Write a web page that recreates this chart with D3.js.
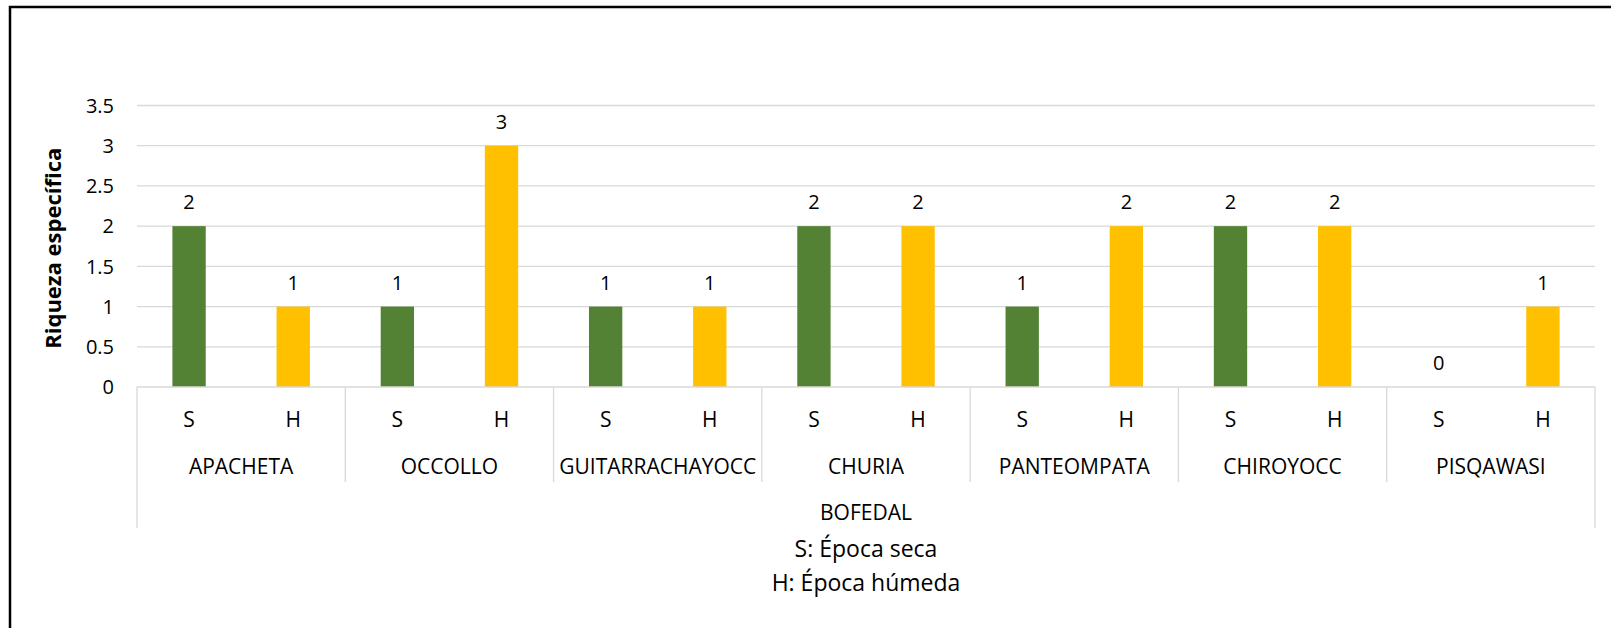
<!DOCTYPE html>
<html lang="es">
  <head>
    <meta charset="UTF-8">
    <style>
        body {
            margin: 0;
            background: #fff;
            font-family: "Open Sans", sans-serif;
        }
        .grid line {
            stroke: #d9d9d9;
            stroke-width: 1.3px;
        }
        .cat-line {
            stroke: #d9d9d9;
            stroke-width: 1.3px;
        }
        text {
            fill: #000;
        }
    </style>
    <script src="https://d3js.org/d3.v7.min.js"></script>
    <title>Riqueza específica por bofedal</title>
  </head>
  <body>
  <script>
      const bofedales = ["APACHETA", "OCCOLLO", "GUITARRACHAYOCC", "CHURIA", "PANTEOMPATA", "CHIROYOCC", "PISQAWASI"];
      const epocas = ["S", "H"];
      const seca = [2, 1, 1, 2, 1, 2, 0];
      const humeda = [1, 3, 1, 2, 2, 2, 1];
      const yTicks = [0, 0.5, 1, 1.5, 2, 2.5, 3, 3.5];
      const colores = {S: "#548235", H: "#ffc000"};

      const width = 1611, height = 628;
      const plot = {left: 137, right: 1595, top: 105.5, bottom: 387};

      const svg = d3.select("body").append("svg")
          .attr("width", width)
          .attr("height", height);

      // chart border (cut off on the right and bottom like the original)
      svg.append("rect")
          .attr("x", 10).attr("y", 7)
          .attr("width", width + 20).attr("height", height + 20)
          .attr("fill", "none")
          .attr("stroke", "#000")
          .attr("stroke-width", 2.5);

      const x0 = d3.scaleBand()
          .domain(bofedales)
          .range([plot.left, plot.right]);

      const x1 = d3.scaleBand()
          .domain(epocas)
          .range([0, x0.bandwidth()])
          .paddingInner(0.68)
          .paddingOuter(0.34);

      const y = d3.scaleLinear()
          .domain([0, 3.5])
          .range([plot.bottom, plot.top]);

      // gridlines + tick labels
      svg.append("g")
          .attr("class", "grid")
          .selectAll("line")
          .data(yTicks.slice(1))
          .join("line")
          .attr("x1", plot.left).attr("x2", plot.right)
          .attr("y1", d => y(d)).attr("y2", d => y(d));

      svg.append("g")
          .selectAll("text")
          .data(yTicks)
          .join("text")
          .attr("x", 114)
          .attr("y", d => y(d))
          .attr("dy", "0.36em")
          .attr("text-anchor", "end")
          .style("font-size", "20px")
          .text(d => d);

      svg.append("text")
          .attr("transform", `translate(61,${(plot.top + plot.bottom) / 2 + 2}) rotate(-90)`)
          .attr("text-anchor", "middle")
          .style("font-size", "22px")
          .style("font-weight", "bold")
          .text("Riqueza específica");

      const rows = bofedales.map((b, i) => ({
          bofedal: b,
          valores: [{epoca: "S", v: seca[i]}, {epoca: "H", v: humeda[i]}]
      }));

      const grupo = svg.append("g")
          .selectAll("g")
          .data(rows)
          .join("g")
          .attr("transform", d => `translate(${x0(d.bofedal)},0)`);

      grupo.selectAll("rect")
          .data(d => d.valores)
          .join("rect")
          .attr("x", d => x1(d.epoca))
          .attr("width", x1.bandwidth())
          .attr("y", d => y(d.v))
          .attr("height", d => y(0) - y(d.v))
          .attr("fill", d => colores[d.epoca]);

      // data labels
      grupo.selectAll("text.valor")
          .data(d => d.valores)
          .join("text")
          .attr("class", "valor")
          .attr("x", d => x1(d.epoca) + x1.bandwidth() / 2)
          .attr("y", d => y(d.v) - 17)
          .attr("text-anchor", "middle")
          .style("font-size", "20px")
          .text(d => d.v);

      grupo.selectAll("text.epoca")
          .data(epocas)
          .join("text")
          .attr("class", "epoca")
          .attr("x", d => x1(d) + x1.bandwidth() / 2)
          .attr("y", 427)
          .attr("text-anchor", "middle")
          .style("font-size", "21px")
          .text(d => d);

      grupo.append("text")
          .attr("x", x0.bandwidth() / 2)
          .attr("y", 474)
          .attr("text-anchor", "middle")
          .style("font-size", "21px")
          .text(d => d.bofedal);

      // multi-level category axis lines
      const cat = svg.append("g");
      cat.append("line").attr("class", "cat-line")
          .attr("x1", plot.left).attr("x2", plot.right)
          .attr("y1", plot.bottom).attr("y2", plot.bottom);
      cat.selectAll("line.sep")
          .data(bofedales.slice(1))
          .join("line")
          .attr("class", "cat-line sep")
          .attr("x1", d => x0(d)).attr("x2", d => x0(d))
          .attr("y1", plot.bottom).attr("y2", 482);
      cat.selectAll("line.edge")
          .data([plot.left, plot.right])
          .join("line")
          .attr("class", "cat-line edge")
          .attr("x1", d => d).attr("x2", d => d)
          .attr("y1", plot.bottom).attr("y2", 528);

      const centro = (plot.left + plot.right) / 2;
      svg.append("text")
          .attr("x", centro).attr("y", 520)
          .attr("text-anchor", "middle")
          .style("font-size", "21px")
          .text("BOFEDAL");

      svg.append("text")
          .attr("x", centro).attr("y", 557)
          .attr("text-anchor", "middle")
          .style("font-size", "23px")
          .text("S: Época seca");

      svg.append("text")
          .attr("x", centro).attr("y", 591)
          .attr("text-anchor", "middle")
          .style("font-size", "23px")
          .text("H: Época húmeda");
  </script>
  </body>
</html>
